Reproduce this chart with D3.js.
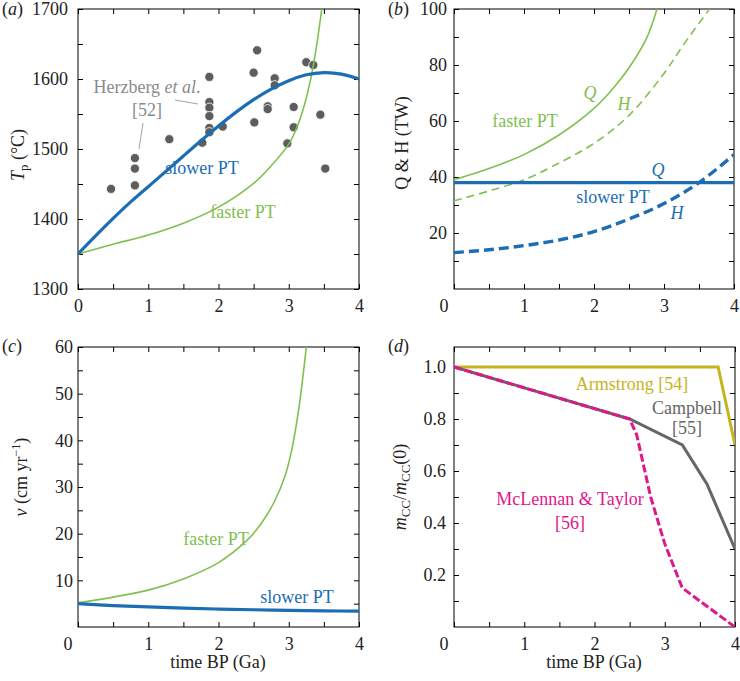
<!DOCTYPE html>
<html lang="en">
<head>
<meta charset="UTF-8">
<title>Plate tectonics panels</title>
<script src="https://d3js.org/d3.v7.min.js"></script>
<style>
    body { margin: 0; background: #fff; }
    svg, svg text { font-family: "Liberation Serif", "Times New Roman", Times, "DejaVu Serif", serif; }
    .frame { fill: none; stroke: #000; stroke-width: 1; }
    .axis path.domain { display: none; }
    .axis line { stroke: #000; }
</style>
</head>
<body>
<script>
    const width = 740;
    const height = 681;
    const serif = '"Liberation Serif", "Times New Roman", Times, "DejaVu Serif", serif';

    // shared x axis (time BP, Ga)
    const xLabelTicks = [0, 1, 2, 3, 4];
    const xMinorTicks = [0.5, 1.5, 2.5, 3.5];

    // (a) potential temperature
    const tpSlower = [[0,1350],[0.25,1376],[0.5,1401],[0.75,1425],[1,1446],[1.25,1468],[1.5,1490],[1.75,1512],[2,1533],[2.25,1553],[2.5,1571],[2.75,1586],[3,1598],[3.25,1607],[3.5,1610],[3.75,1608],[4,1600]];
    const tpFaster = [[0,1350],[0.5,1364],[1,1377],[1.5,1394],[2,1417],[2.5,1451],[2.75,1476],[3,1507],[3.1,1527],[3.2,1555],[3.3,1594],[3.38,1637],[3.47,1700]];
    const herzberg = [[0.47,1443],[0.81,1487],[0.81,1472],[0.81,1448],[1.30,1514],[1.77,1509],[1.87,1603],[1.87,1567],[1.87,1559],[1.87,1547],[1.87,1530],[1.87,1524],[2.06,1532],[2.50,1609],[2.55,1641],[2.51,1538],[2.70,1561],[2.70,1557],[2.80,1601],[2.80,1591],[2.98,1508],[3.07,1560],[3.07,1531],[3.25,1624],[3.35,1620],[3.45,1549],[3.52,1472]];
    const tpLabelTicks = [1300, 1400, 1500, 1600, 1700];
    const tpMinorTicks = [1350, 1450, 1550, 1650];

    // (b) heat flow Q and heat production H
    const qFaster = [[0,39],[0.5,43],[1,48],[1.5,55],[2,64.5],[2.25,71],[2.5,79],[2.75,89.5],[2.9,100]];
    const hFaster = [[0,31.5],[0.5,35],[1,39],[1.5,45],[2,52],[2.5,62],[3,77],[3.3,88],[3.65,100]];
    const qSlower = [[0,38],[1,38],[2,38],[3,38],[4,38]];
    const hSlower = [[0,13],[0.5,14],[1,15.5],[1.5,17.5],[2,20.5],[2.5,25],[3,30.5],[3.5,38],[4,48]];
    const qhLabelTicks = [20, 40, 60, 80, 100];
    const qhMinorTicks = [10, 30, 50, 70, 90];

    // (c) plate velocity
    const vFaster = [[0,5.2],[0.5,6.4],[1,7.9],[1.5,10.3],[2,13.8],[2.4,18.5],[2.6,22],[2.8,27],[2.95,32.5],[3.05,38.5],[3.15,47.5],[3.22,56],[3.25,60]];
    const vSlower = [[0,5],[0.5,4.6],[1,4.3],[1.5,4.05],[2,3.85],[2.5,3.7],[3,3.55],[3.5,3.45],[4,3.4]];
    const vLabelTicks = [10, 20, 30, 40, 50, 60];
    const vMinorTicks = [5, 15, 25, 35, 45, 55];

    // (d) continental crust mass
    const armstrong = [[0,1],[3.76,1],[4,0.7]];
    const campbell = [[0,1],[2.5,0.8],[3.25,0.7],[3.6,0.55],[4,0.3]];
    const mclennan = [[0,1],[2.5,0.8],[2.6,0.74],[2.8,0.5],[3,0.32],[3.25,0.15],[4,0]];
    const mLabelTicks = [0.2, 0.4, 0.6, 0.8, 1.0];
    const mMinorTicks = [0.1, 0.3, 0.5, 0.7, 0.9];

    const blue = "#1b6db4";
    const green = "#80c050";
    const olive = "#c6b41c";
    const gray = "#666666";
    const magenta = "#e0168a";
    const fontSize = 18;
    const smooth = d3.curveCatmullRom.alpha(0.5);

    const svg = d3.select("body").append("svg")
        .attr("width", width).attr("height", height)
        .attr("font-family", serif);

    function makePanel(p) {
        const x = d3.scaleLinear().domain([0, 4]).range([p.left, p.right]);
        const y = d3.scaleLinear().domain(p.yDomain).range([p.bottom, p.top]);
        const g = svg.append("g");

        svg.append("clipPath").attr("id", "clip-" + p.name)
            .append("rect")
            .attr("x", p.left).attr("y", p.top)
            .attr("width", p.right - p.left).attr("height", p.bottom - p.top);

        const xAll = xLabelTicks.concat(xMinorTicks);
        const yAll = p.yLabels.concat(p.yMinor);

        const fmtX = d => (xLabelTicks.includes(d) && !(p.zeroShift && d === 0)) ? d : "";
        const fmtY = d => p.yLabels.includes(d) ? p.yFormat(d) : "";

        g.append("g").attr("class", "axis")
            .attr("transform", `translate(0,${p.bottom})`)
            .call(d3.axisBottom(x).tickValues(xAll).tickSizeInner(-5).tickSizeOuter(0)
                .tickPadding(p.xPad).tickFormat(fmtX))
            .attr("font-family", serif).attr("font-size", fontSize);
        g.append("g").attr("class", "axis")
            .attr("transform", `translate(0,${p.top})`)
            .call(d3.axisTop(x).tickValues(xAll).tickSizeInner(-5).tickSizeOuter(0).tickFormat(""));
        g.append("g").attr("class", "axis")
            .attr("transform", `translate(${p.left},0)`)
            .call(d3.axisLeft(y).tickValues(yAll).tickSizeInner(-5).tickSizeOuter(0)
                .tickPadding(p.yPad).tickFormat(fmtY))
            .attr("font-family", serif).attr("font-size", fontSize);
        g.append("g").attr("class", "axis")
            .attr("transform", `translate(${p.right},0)`)
            .call(d3.axisRight(y).tickValues(yAll).tickSizeInner(-5).tickSizeOuter(0).tickFormat(""));

        g.selectAll(".axis text").attr("fill", "#222");

        if (p.zeroShift) {
            g.append("text")
                .attr("x", p.left - 10).attr("y", p.bottom + p.xPad)
                .attr("dy", "0.71em")
                .attr("text-anchor", "middle")
                .attr("font-size", fontSize)
                .attr("fill", "#222")
                .text("0");
        }

        g.append("rect").attr("class", "frame")
            .attr("x", p.left).attr("y", p.top)
            .attr("width", p.right - p.left).attr("height", p.bottom - p.top);

        // panel letter
        const lt = svg.append("text")
            .attr("x", p.tagX).attr("y", p.tagY)
            .attr("font-size", fontSize).attr("fill", "#222");
        lt.append("tspan").text("(");
        lt.append("tspan").attr("font-style", "italic").text(p.name);
        lt.append("tspan").text(")");

        // y title
        const yt = svg.append("text")
            .attr("transform", `translate(${p.yTitleX},${(p.top + p.bottom) / 2 + (p.yTitleDy || 0)}) rotate(-90)`)
            .attr("text-anchor", "middle")
            .attr("font-size", fontSize)
            .attr("fill", "#222");
        p.yTitle(yt);

        const plot = svg.append("g").attr("clip-path", `url(#clip-${p.name})`);
        const line = d3.line().x(d => x(d[0])).y(d => y(d[1]));
        return { x, y, plot, line };
    }

    function addLine(P, data, color, w, dash, curve) {
        P.plot.append("path")
            .datum(data)
            .attr("d", P.line.curve(curve || smooth))
            .attr("fill", "none")
            .attr("stroke", color)
            .attr("stroke-width", w)
            .attr("stroke-dasharray", dash || null);
    }

    function label(x, y, txt, color, italic) {
        svg.append("text")
            .attr("x", x).attr("y", y)
            .attr("text-anchor", "middle")
            .attr("font-size", fontSize)
            .attr("font-style", italic ? "italic" : null)
            .attr("fill", color)
            .text(txt);
    }

    function xTitle(cx, y) {
        svg.append("text")
            .attr("x", cx).attr("y", y)
            .attr("text-anchor", "middle")
            .attr("font-size", fontSize)
            .attr("fill", "#222")
            .text("time BP (Ga)");
    }

    // ---------- (a) ----------
    const A = makePanel({
        name: "a", left: 78, right: 359, top: 9, bottom: 289,
        yDomain: [1300, 1700], yLabels: tpLabelTicks, yMinor: tpMinorTicks,
        yFormat: d => d, xPad: 10, yPad: 10, zeroShift: false,
        tagX: 2, tagY: 15, yTitleX: 24, yTitleDy: 6,
        yTitle: t => {
            t.append("tspan").attr("font-style", "italic").text("T");
            t.append("tspan").attr("font-size", 13).attr("dy", 4).text("p");
            t.append("tspan").attr("dy", -4).text(" (°C)");
        }
    });

    A.plot.selectAll("circle.dot")
        .data(herzberg)
        .enter().append("circle")
        .attr("class", "dot")
        .attr("cx", d => A.x(d[0]))
        .attr("cy", d => A.y(d[1]))
        .attr("r", 4.6)
        .attr("fill", "#5d5d5d")
        .attr("stroke", "#fff")
        .attr("stroke-width", 0.8);

    addLine(A, tpFaster, green, 1.6);
    addLine(A, tpSlower, blue, 3.2, null, d3.curveBasis);

    label(202, 174, "slower PT", blue);
    label(243, 218, "faster PT", green);

    const herz = svg.append("text")
        .attr("x", 147).attr("y", 93)
        .attr("text-anchor", "middle")
        .attr("font-size", fontSize)
        .attr("fill", "#8a8a8a");
    herz.append("tspan").text("Herzberg ");
    herz.append("tspan").attr("font-style", "italic").text("et al");
    herz.append("tspan").text(".");
    label(147, 116, "[52]", "#8a8a8a");
    svg.append("line").attr("x1", 175).attr("y1", 100).attr("x2", 198).attr("y2", 104)
        .attr("stroke", "#8a8a8a").attr("stroke-width", 0.8);
    svg.append("line").attr("x1", 143).attr("y1", 123).attr("x2", 139).attr("y2", 149)
        .attr("stroke", "#8a8a8a").attr("stroke-width", 0.8);

    // ---------- (b) ----------
    const B = makePanel({
        name: "b", left: 454, right: 734, top: 9, bottom: 289,
        yDomain: [0, 100], yLabels: qhLabelTicks, yMinor: qhMinorTicks,
        yFormat: d => d, xPad: 10, yPad: 7, zeroShift: true,
        tagX: 388, tagY: 15, yTitleX: 408, yTitleDy: -6,
        yTitle: t => t.text("Q & H (TW)")
    });

    addLine(B, qFaster, green, 1.6);
    addLine(B, hFaster, green, 1.6, "8,5");
    addLine(B, qSlower, blue, 3.2, null, d3.curveLinear);
    addLine(B, hSlower, blue, 3.4, "10,5");

    label(590, 99, "Q", green, true);
    label(624, 110, "H", green, true);
    label(525, 127, "faster PT", green);
    label(658, 176, "Q", blue, true);
    label(613, 203, "slower PT", blue);
    label(677, 219, "H", blue, true);

    // ---------- (c) ----------
    const C = makePanel({
        name: "c", left: 78, right: 359, top: 347, bottom: 627,
        yDomain: [0, 60], yLabels: vLabelTicks, yMinor: vMinorTicks,
        yFormat: d => d, xPad: 10, yPad: 5, zeroShift: true,
        tagX: 2, tagY: 352, yTitleX: 27, yTitleDy: -10,
        yTitle: t => {
            t.append("tspan").attr("font-style", "italic").text("v");
            t.append("tspan").text(" (cm yr");
            t.append("tspan").attr("font-size", 12).attr("dy", -7).text("−1");
            t.append("tspan").attr("dy", 7).text(")");
        }
    });

    addLine(C, vFaster, green, 1.6);
    addLine(C, vSlower, blue, 3.2);

    label(216, 545, "faster PT", green);
    label(297, 603, "slower PT", blue);
    xTitle(218, 668);

    // ---------- (d) ----------
    const D = makePanel({
        name: "d", left: 454, right: 735, top: 347, bottom: 627,
        yDomain: [0, 1.077], yLabels: mLabelTicks, yMinor: mMinorTicks,
        yFormat: d3.format(".1f"), xPad: 10, yPad: 8, zeroShift: true,
        tagX: 388, tagY: 352, yTitleX: 406, yTitleDy: 0,
        yTitle: t => {
            t.append("tspan").attr("font-style", "italic").text("m");
            t.append("tspan").attr("font-size", 13).attr("dy", 4).text("CC");
            t.append("tspan").attr("dy", -4).text("/");
            t.append("tspan").attr("font-style", "italic").text("m");
            t.append("tspan").attr("font-size", 13).attr("dy", 4).text("CC");
            t.append("tspan").attr("dy", -4).text("(0)");
        }
    });

    addLine(D, armstrong, olive, 3, null, d3.curveLinear);
    addLine(D, campbell, gray, 3, null, d3.curveLinear);
    addLine(D, mclennan, magenta, 3, "8,3", d3.curveLinear);

    label(632, 390, "Armstrong [54]", olive);
    label(687, 414, "Campbell", gray);
    label(687, 434, "[55]", gray);
    label(570, 505, "McLennan & Taylor", magenta);
    label(570, 529, "[56]", magenta);
    xTitle(594, 668);
</script>
</body>
</html>
